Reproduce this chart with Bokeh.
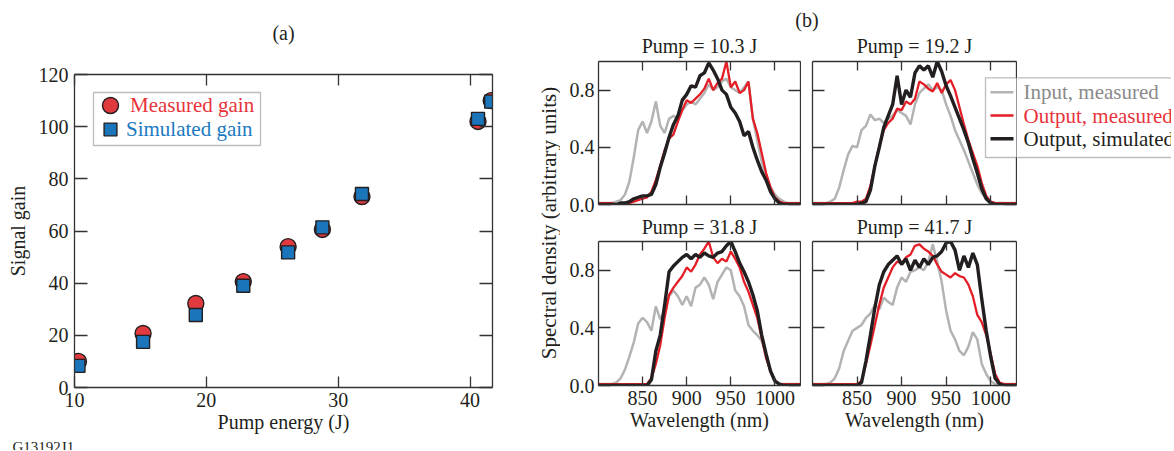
import math
from bokeh.plotting import figure
from bokeh.models import (Range1d, FixedTicker, LinearAxis, Label, Legend, LegendItem,
                          BoxAnnotation, PrintfTickFormatter, Arrow)
from bokeh.layouts import row, column
from bokeh.embed import file_html
from bokeh.resources import INLINE

SERIF = "Liberation Serif"
INK = "#231f20"
FRAME = "#333333"
RED_FILL = "#e0393e"
BLUE_FILL = "#1b75bb"
RED_TXT = "#e8333a"
BLUE_TXT = "#1b7ac2"
GRAY_LINE = "#b3b3b3"
GRAY_TXT = "#8a8a8a"
RED_LINE = "#e41e26"

# ---------------- (a) signal gain ----------------
pump_energy = [10.3, 15.2, 19.2, 22.8, 26.2, 28.8, 31.8, 40.6, 41.6]
measured_gain = [10.0, 20.7, 32.2, 40.6, 54.0, 60.6, 73.2, 102.0, 110.0]
simulated_gain = [8.3, 17.5, 27.8, 39.0, 51.8, 61.4, 74.2, 103.0, 109.6]
gain_x_ticks = [10, 20, 30, 40]
gain_y_ticks = [0, 20, 40, 60, 80, 100, 120]

# ---------------- (b) spectra ----------------
wavelength_nm = [800, 805, 810, 815, 820, 825, 830, 835, 840, 845,
                 850, 855, 860, 865, 870, 875, 880, 885, 890, 895,
                 900, 905, 910, 915, 920, 925, 930, 935, 940, 945,
                 950, 955, 960, 965, 970, 975, 980, 985, 990, 995,
                 1000, 1005, 1010, 1015, 1020, 1025, 1030]
wl_ticks = [850, 900, 950, 1000]
sd_ticks = [0.0, 0.4, 0.8]

pump_titles = ["Pump = 10.3 J", "Pump = 19.2 J", "Pump = 31.8 J", "Pump = 41.7 J"]
legend_labels = ["Input, measured", "Output, measured", "Output, simulated"]

input_10 = [0.01, 0.01, 0.01, 0.01, 0.02, 0.03, 0.07, 0.16, 0.33, 0.52,
            0.58, 0.50, 0.58, 0.72, 0.55, 0.50, 0.60, 0.62, 0.60, 0.66,
            0.70, 0.72, 0.70, 0.74, 0.78, 0.84, 0.80, 0.82, 0.86, 0.88,
            0.82, 0.80, 0.78, 0.82, 0.86, 0.60, 0.45, 0.30, 0.20, 0.12,
            0.07, 0.04, 0.02, 0.01, 0.01, 0.01, 0.01]
outmeas_10 = [0.01, 0.01, 0.01, 0.01, 0.00, 0.00, 0.01, 0.01, 0.02, 0.03,
              0.04, 0.05, 0.09, 0.17, 0.27, 0.38, 0.46, 0.49, 0.58, 0.66,
              0.73, 0.71, 0.74, 0.77, 0.81, 0.88, 0.80, 0.85, 0.88, 1.00,
              0.82, 0.86, 0.78, 0.80, 0.86, 0.60, 0.50, 0.36, 0.22, 0.12,
              0.05, 0.02, 0.01, 0.01, 0.01, 0.01, 0.01]
outsim_10 = [0.00, 0.00, 0.00, 0.00, 0.00, 0.01, 0.01, 0.02, 0.04, 0.05,
             0.06, 0.06, 0.07, 0.14, 0.26, 0.36, 0.47, 0.56, 0.62, 0.73,
             0.77, 0.83, 0.82, 0.90, 0.92, 0.99, 0.94, 0.88, 0.80, 0.77,
             0.68, 0.64, 0.58, 0.48, 0.51, 0.40, 0.31, 0.23, 0.17, 0.09,
             0.04, 0.01, 0.00, 0.00, 0.00, 0.00, 0.00]

input_19 = [0.01, 0.01, 0.01, 0.01, 0.02, 0.04, 0.12, 0.24, 0.35, 0.41,
            0.40, 0.52, 0.55, 0.63, 0.59, 0.60, 0.57, 0.60, 0.62, 0.66,
            0.64, 0.62, 0.56, 0.70, 0.78, 0.81, 0.84, 0.80, 0.82, 0.80,
            0.70, 0.62, 0.52, 0.45, 0.38, 0.30, 0.22, 0.14, 0.08, 0.04,
            0.02, 0.01, 0.01, 0.01, 0.01, 0.01, 0.01]
outmeas_19 = [0.01, 0.01, 0.01, 0.01, 0.01, 0.01, 0.01, 0.01, 0.01, 0.01,
              0.02, 0.02, 0.04, 0.13, 0.27, 0.41, 0.52, 0.57, 0.60, 0.67,
              0.66, 0.72, 0.70, 0.74, 0.86, 0.84, 0.81, 0.79, 0.85, 0.78,
              0.84, 0.87, 0.80, 0.68, 0.56, 0.45, 0.36, 0.27, 0.15, 0.06,
              0.02, 0.01, 0.01, 0.01, 0.01, 0.01, 0.01]
outsim_19 = [0.00, 0.00, 0.00, 0.00, 0.00, 0.00, 0.00, 0.00, 0.00, 0.00,
             0.00, 0.01, 0.02, 0.10, 0.27, 0.40, 0.54, 0.62, 0.70, 0.90,
             0.70, 0.80, 0.75, 0.92, 0.97, 0.94, 0.97, 0.89, 1.00, 0.93,
             0.83, 0.76, 0.68, 0.60, 0.52, 0.43, 0.32, 0.22, 0.11, 0.04,
             0.01, 0.00, 0.00, 0.00, 0.00, 0.00, 0.00]

input_32 = [0.01, 0.01, 0.01, 0.01, 0.02, 0.05, 0.11, 0.20, 0.30, 0.43,
            0.47, 0.44, 0.38, 0.55, 0.46, 0.52, 0.62, 0.66, 0.62, 0.56,
            0.62, 0.55, 0.68, 0.70, 0.75, 0.70, 0.60, 0.72, 0.77, 0.82,
            0.80, 0.66, 0.62, 0.55, 0.42, 0.38, 0.35, 0.31, 0.22, 0.11,
            0.04, 0.01, 0.01, 0.01, 0.01, 0.01, 0.01]
outmeas_32 = [0.01, 0.01, 0.01, 0.01, 0.01, 0.01, 0.01, 0.01, 0.01, 0.01,
              0.01, 0.01, 0.05, 0.15, 0.28, 0.47, 0.63, 0.68, 0.72, 0.76,
              0.82, 0.79, 0.84, 0.91, 0.95, 1.00, 0.89, 0.85, 0.88, 0.86,
              0.93, 0.88, 0.82, 0.72, 0.65, 0.56, 0.47, 0.33, 0.19, 0.10,
              0.03, 0.01, 0.01, 0.01, 0.01, 0.01, 0.01]
outsim_32 = [0.00, 0.00, 0.00, 0.00, 0.00, 0.00, 0.00, 0.00, 0.00, 0.00,
             0.00, 0.00, 0.04, 0.24, 0.35, 0.56, 0.79, 0.83, 0.86, 0.89,
             0.91, 0.88, 0.91, 0.89, 0.92, 0.90, 0.89, 0.92, 0.93, 0.97,
             1.00, 0.93, 0.85, 0.79, 0.72, 0.63, 0.52, 0.35, 0.22, 0.10,
             0.03, 0.01, 0.00, 0.00, 0.00, 0.00, 0.00]

input_42 = [0.01, 0.01, 0.01, 0.01, 0.02, 0.05, 0.12, 0.24, 0.31, 0.38,
            0.40, 0.42, 0.47, 0.50, 0.56, 0.53, 0.61, 0.58, 0.56, 0.68,
            0.75, 0.72, 0.79, 0.80, 0.82, 0.80, 0.86, 0.98, 0.86, 0.72,
            0.52, 0.38, 0.32, 0.24, 0.21, 0.27, 0.37, 0.32, 0.15, 0.08,
            0.03, 0.01, 0.01, 0.01, 0.01, 0.01, 0.01]
outmeas_42 = [0.01, 0.01, 0.01, 0.01, 0.01, 0.01, 0.01, 0.01, 0.01, 0.01,
              0.01, 0.03, 0.15, 0.28, 0.42, 0.56, 0.68, 0.75, 0.82, 0.86,
              0.85, 0.89, 0.91, 0.97, 0.98, 0.95, 0.93, 0.90, 0.84, 0.79,
              0.77, 0.75, 0.78, 0.76, 0.75, 0.70, 0.62, 0.49, 0.44, 0.35,
              0.22, 0.08, 0.02, 0.01, 0.01, 0.01, 0.01]
outsim_42 = [0.00, 0.00, 0.00, 0.00, 0.00, 0.00, 0.00, 0.00, 0.00, 0.00,
             0.00, 0.02, 0.17, 0.35, 0.54, 0.70, 0.79, 0.84, 0.87, 0.90,
             0.84, 0.88, 0.80, 0.87, 0.82, 0.88, 0.84, 0.89, 0.90, 0.93,
             0.99, 1.00, 0.94, 0.80, 0.90, 0.82, 0.92, 0.84, 0.60, 0.38,
             0.20, 0.05, 0.01, 0.00, 0.00, 0.00, 0.00]

LW_GRAY, LW_RED, LW_BLACK = 2.5, 2.3, 3.4


def style_axis(ax, ticks, tick_len, show_labels, fmt=None):
    ax.ticker = FixedTicker(ticks=ticks)
    ax.major_tick_in = tick_len
    ax.major_tick_out = 0
    ax.minor_tick_in = 0
    ax.minor_tick_out = 0
    ax.axis_line_color = FRAME
    ax.axis_line_width = 1.3
    ax.major_tick_line_color = FRAME
    ax.major_tick_line_width = 1.3
    ax.minor_tick_line_color = None
    ax.major_label_text_font = SERIF
    ax.axis_label_text_font = SERIF
    ax.axis_label_text_font_style = "normal"
    ax.axis_label_text_color = INK
    ax.axis_label_text_font_size = "20px"
    if fmt is not None:
        ax.formatter = fmt
    if show_labels:
        ax.major_label_text_font_size = "20px"
        ax.major_label_text_color = INK
    else:
        ax.major_label_text_font_size = "0px"
        ax.major_label_text_color = None
        ax.major_label_standoff = 0


def canvas_fig(width, height):
    f = figure(width=width, height=height, x_range=Range1d(0, 1), y_range=Range1d(0, 1),
               x_axis_type=None, y_axis_type=None, output_backend="svg",
               toolbar_location=None, title=None, min_border=0)
    f.outline_line_color = None
    return f


def text_label(x, y, text, size="20px", color=INK, align="center", baseline="middle", angle=0.0):
    return Label(x=x, y=y, x_units="screen", y_units="screen", text=text,
                 text_align=align, text_baseline=baseline, text_font=SERIF,
                 text_font_size=size, text_color=color, angle=angle)


def single_legend(label, renderer, color, loc, gw, gh, standoff, size="21px"):
    return Legend(items=[LegendItem(label=label, renderers=[renderer])],
                  location=loc, glyph_width=gw, glyph_height=gh, label_height=gh,
                  label_standoff=standoff, padding=0, margin=0, spacing=0,
                  border_line_color=None, background_fill_alpha=0,
                  label_text_font=SERIF, label_text_font_size=size,
                  label_text_color=color)


# ---------------- panel (a) ----------------
head_a = canvas_fig(536, 56)
head_a.add_layout(text_label(283, 24, "(a)"))

pa = figure(width=536, height=382, x_range=Range1d(10, 41.7), y_range=Range1d(0, 120),
            output_backend="svg", toolbar_location=None, title=None,
            min_border_left=74, min_border_right=44, min_border_top=18, min_border_bottom=51)
pa.grid.visible = False
pa.outline_line_color = None
r_meas = pa.scatter(pump_energy, measured_gain, marker="circle", size=16,
                    fill_color=RED_FILL, line_color=INK, line_width=1.4)
r_sim = pa.scatter(pump_energy, simulated_gain, marker="square", size=13,
                   fill_color=BLUE_FILL, line_color=INK, line_width=1.4)
xb = pa.xaxis[0]
style_axis(xb, gain_x_ticks, 11, True)
xb.axis_label = "Pump energy (J)"
xb.major_label_standoff = 5
xb.axis_label_standoff = 1
yl = pa.yaxis[0]
style_axis(yl, gain_y_ticks, 13, True)
yl.axis_label = "Signal gain"
yl.major_label_standoff = 6
yl.axis_label_standoff = 7
xa = LinearAxis()
style_axis(xa, gain_x_ticks, 11, False)
pa.add_layout(xa, "above")
yr = LinearAxis()
style_axis(yr, gain_y_ticks, 13, False)
pa.add_layout(yr, "right")

pa.add_layout(BoxAnnotation(left=19, right=186, bottom=242, top=295,
                            left_units="screen", right_units="screen",
                            bottom_units="screen", top_units="screen",
                            fill_color="white", fill_alpha=1.0,
                            line_color=INK, line_width=1.3))
pa.add_layout(single_legend("Measured gain", r_meas, RED_TXT, (16, 262), 40, 40, -8))
pa.add_layout(single_legend("Simulated gain", r_sim, BLUE_TXT, (20, 242), 32, 32, -4))

foot_a = canvas_fig(536, 12)
foot_a.add_layout(text_label(12, 12, "G13192J1", size="15px", align="left", baseline="top"))

left_col = column(row(head_a), pa, row(foot_a))

# vertical label shared by the four spectra
ylab = canvas_fig(24, 448)
ylab.add_layout(text_label(12, 448 - 222.5, "Spectral density (arbitrary units)",
                           size="21px", angle=math.pi / 2))


# ---------------- panels (b) ----------------
def spectral_panel(gray, red, black, width, height, mbl, mbr, mbt, mbb, xlabels, ylabels):
    p = figure(width=width, height=height, x_range=Range1d(800, 1029), y_range=Range1d(0, 1.0),
               output_backend="svg", toolbar_location=None, title=None,
               min_border_left=mbl, min_border_right=mbr, min_border_top=mbt,
               min_border_bottom=mbb)
    p.grid.visible = False
    p.outline_line_color = None
    rg = p.line(wavelength_nm, gray, line_color=GRAY_LINE, line_width=LW_GRAY)
    rr = p.line(wavelength_nm, red, line_color=RED_LINE, line_width=LW_RED)
    rk = p.line(wavelength_nm, black, line_color=INK, line_width=LW_BLACK)
    bx = p.xaxis[0]
    style_axis(bx, wl_ticks, 9, xlabels)
    if xlabels:
        bx.axis_label = "Wavelength (nm)"
        bx.major_label_standoff = 5
        bx.axis_label_standoff = 1
    ly = p.yaxis[0]
    style_axis(ly, sd_ticks, 12, ylabels, PrintfTickFormatter(format="%.1f"))
    if ylabels:
        ly.major_label_standoff = 4
    ta = LinearAxis()
    style_axis(ta, wl_ticks, 9, False)
    p.add_layout(ta, "above")
    ra = LinearAxis()
    style_axis(ra, sd_ticks, 12, False)
    p.add_layout(ra, "right")
    return p


head_b = canvas_fig(611, 58)
head_b.add_layout(text_label(246.5, 38.5, "(b)"))
head_b.add_layout(text_label(139, 13, pump_titles[0]))
head_b.add_layout(text_label(354, 13, pump_titles[1]))

tl = spectral_panel(input_10, outmeas_10, outsim_10, 241, 157, 38, 1, 3, 11, False, True)
tr = spectral_panel(input_19, outmeas_19, outsim_19, 216, 157, 11, 1, 3, 11, False, False)

# legend: the part inside the 19.2 J frame (box edge + line samples)
tr.add_layout(BoxAnnotation(left=173, right=240, bottom=47, top=126.7,
                            left_units="screen", right_units="screen",
                            bottom_units="screen", top_units="screen",
                            fill_color="white", fill_alpha=1.0,
                            line_color=INK, line_width=1.3))
for yy, col, lw in [(112.3, GRAY_LINE, LW_GRAY), (89.0, RED_LINE, LW_RED), (65.7, INK, LW_BLACK)]:
    tr.add_layout(Arrow(x_start=178, y_start=yy, x_end=201, y_end=yy,
                        start_units="screen", end_units="screen", end=None,
                        line_color=col, line_width=lw))

# legend: the part right of the frame (labels); its frame is aligned with the panels' frames
leg_fig = canvas_fig(154, 157)
leg_fig.add_layout(BoxAnnotation(left=-20, right=300, bottom=47, top=126.7,
                                 left_units="screen", right_units="screen",
                                 bottom_units="screen", top_units="screen",
                                 fill_color="white", fill_alpha=1.0,
                                 line_color=INK, line_width=1.3))
for yy, txt, col in [(112.3, legend_labels[0], GRAY_TXT),
                     (89.0, legend_labels[1], RED_TXT),
                     (65.7, legend_labels[2], INK)]:
    leg_fig.add_layout(text_label(6, yy, txt, size="21px", color=col, align="left"))

head_c = canvas_fig(611, 23)
head_c.add_layout(text_label(139, 11.5, pump_titles[2]))
head_c.add_layout(text_label(354, 11.5, pump_titles[3]))

bl = spectral_panel(input_32, outmeas_32, outsim_32, 241, 210, 38, 1, 3, 63, True, True)
br = spectral_panel(input_42, outmeas_42, outsim_42, 216, 210, 11, 1, 3, 63, True, False)

right_col = column(head_b, row(tl, tr, leg_fig), head_c, row(bl, br))

layout = row(left_col, ylab, right_col)

open("out.html", "w").write(file_html(layout, INLINE))
